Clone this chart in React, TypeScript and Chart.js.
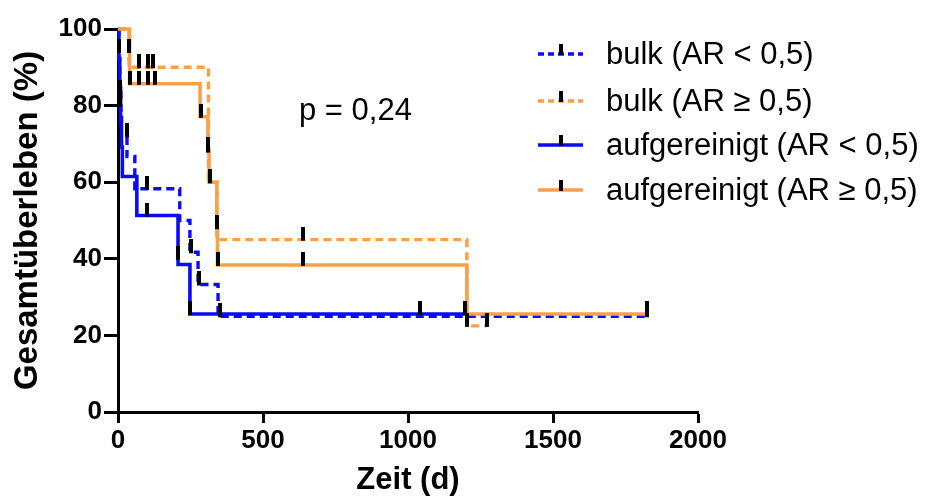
import React, { useEffect, useRef } from "react";
import { Chart, registerables } from "chart.js";

Chart.register(...registerables);

// ---------- data ----------
const xTickValues = [0, 500, 1000, 1500, 2000];
const yTickValues = [0, 20, 40, 60, 80, 100];

const seriesLabels = [
  "bulk (AR < 0,5)",
  "bulk (AR \u2265 0,5)",
  "aufgereinigt (AR < 0,5)",
  "aufgereinigt (AR \u2265 0,5)",
];

// bulk (AR < 0,5)
const bulkLowTimes = [0, 3, 6, 10, 31, 58, 213, 248, 276, 345, 1824];
const bulkLowSurvival = [100, 91.7, 83.3, 75, 66.7, 58.3, 50, 41.7, 33.3, 25, 25];
const bulkLowCensorTimes = [8, 31, 100, 252, 279, 350, 1824];
const bulkLowCensorSurvival = [83.3, 72, 58.3, 41.7, 33.3, 25, 25];

// bulk (AR >= 0,5)
const bulkHighTimes = [0, 38, 312, 341, 1203, 1272];
const bulkHighSurvival = [100, 90, 60, 45, 22.5, 22.5];
const bulkHighCensorTimes = [38, 72, 103, 121, 312, 638, 1205, 1272];
const bulkHighCensorSurvival = [94, 90, 90, 90, 68, 45, 22.5, 22.5];

// aufgereinigt (AR < 0,5)
const pureLowTimes = [0, 3, 6, 9, 12, 15, 65, 207, 248, 1197];
const pureLowSurvival = [100, 92.3, 84.6, 76.9, 69.2, 61.5, 51.3, 38.5, 25.6, 25.6];
const pureLowCensorTimes = [2, 7, 100, 207, 248, 1041, 1197];
const pureLowCensorSurvival = [94, 80, 51.3, 40, 25.6, 25.6, 25.6];

// aufgereinigt (AR >= 0,5)
const pureHighTimes = [0, 40, 283, 310, 314, 341, 343, 1203, 1824];
const pureHighSurvival = [100, 85.7, 77.1, 68.5, 60, 48, 38.4, 25.6, 25.6];
const pureHighCensorTimes = [41, 72, 103, 128, 285, 310, 316, 341, 345, 638, 1824];
const pureHighCensorSurvival = [85.7, 85.7, 85.7, 85.7, 77.1, 68.5, 60, 48, 38.4, 38.4, 25.6];

const pValueText = "p = 0,24";

// ---------- styles ----------
const BLUE = "#0B0BF4";
const ORANGE = "#F7A14A";
const FONT = "'Liberation Sans', Arial, Helvetica, sans-serif";

function toPoints(xs: number[], ys: number[]) {
  return xs.map((x, i) => ({ x, y: ys[i] }));
}

function makeCensorMark(): HTMLCanvasElement {
  const c = document.createElement("canvas");
  c.width = 4;
  c.height = 26;
  const g = c.getContext("2d")!;
  g.fillStyle = "#000";
  g.fillRect(0, 0, 4, 14);
  return c;
}

export default function App() {
  const canvasRef = useRef<HTMLCanvasElement | null>(null);

  useEffect(() => {
    const canvas = canvasRef.current;
    if (!canvas) return;
    const mark = makeCensorMark();

    const lineSets = [
      { data: toPoints(bulkLowTimes, bulkLowSurvival), color: BLUE, dash: [8, 5] },
      { data: toPoints(bulkHighTimes, bulkHighSurvival), color: ORANGE, dash: [8, 5] },
      { data: toPoints(pureLowTimes, pureLowSurvival), color: BLUE, dash: [] as number[] },
      { data: toPoints(pureHighTimes, pureHighSurvival), color: ORANGE, dash: [] as number[] },
    ];
    const censorSets = [
      toPoints(bulkLowCensorTimes, bulkLowCensorSurvival),
      toPoints(bulkHighCensorTimes, bulkHighCensorSurvival),
      toPoints(pureLowCensorTimes, pureLowCensorSurvival),
      toPoints(pureHighCensorTimes, pureHighCensorSurvival),
    ];

    const datasets: any[] = [];
    censorSets.forEach((d, i) => {
      datasets.push({
        type: "line",
        label: seriesLabels[i] + " censored",
        data: d,
        showLine: false,
        pointStyle: mark,
        pointRadius: 3,
        pointHoverRadius: 3,
        order: 0,
        clip: false,
      });
    });
    // draw order: pure lines above bulk lines
    const lineOrder = [4, 3, 2, 1];
    lineSets.forEach((s, i) => {
      datasets.push({
        type: "line",
        label: seriesLabels[i],
        data: s.data,
        borderColor: s.color,
        backgroundColor: s.color,
        borderWidth: i >= 2 ? 3.6 : 3.4,
        borderDash: s.dash,
        stepped: "before",
        pointRadius: 0,
        pointHoverRadius: 0,
        fill: false,
        order: lineOrder[i],
        clip: false,
      });
    });

    const legendPlugin = {
      id: "kmLegend",
      afterDraw(chart: any) {
        const ctx = chart.ctx as CanvasRenderingContext2D;
        ctx.save();
        const rows = [54, 101, 145, 190];
        const styles = [
          { color: BLUE, dash: [6, 4] },
          { color: ORANGE, dash: [6, 4] },
          { color: BLUE, dash: [] as number[] },
          { color: ORANGE, dash: [] as number[] },
        ];
        seriesLabels.forEach((label, i) => {
          const y = rows[i];
          ctx.strokeStyle = styles[i].color;
          ctx.lineWidth = 3.5;
          ctx.setLineDash(styles[i].dash);
          ctx.beginPath();
          ctx.moveTo(538, y);
          ctx.lineTo(583, y);
          ctx.stroke();
          ctx.setLineDash([]);
          ctx.fillStyle = "#000";
          ctx.fillRect(559, y - 10, 4, 11);
          ctx.font = `31px ${FONT}`;
          ctx.textBaseline = "middle";
          ctx.textAlign = "left";
          ctx.fillText(label, 606, y + 1);
        });
        ctx.font = `31px ${FONT}`;
        ctx.textBaseline = "alphabetic";
        ctx.fillText(pValueText, 299, 120);
        ctx.restore();
      },
    };

    const chart = new Chart(canvas, {
      type: "line",
      data: { datasets },
      options: {
        animation: false,
        responsive: false,
        maintainAspectRatio: false,
        events: [],
        layout: { padding: { top: 29, right: 235, bottom: 0, left: 0 } },
        plugins: {
          legend: { display: false },
          tooltip: { enabled: false },
        },
        scales: {
          x: {
            type: "linear",
            min: 0,
            max: 2000,
            afterFit: (scale: any) => {
              scale.height = 90;
            },
            afterBuildTicks: (scale: any) => {
              scale.ticks = xTickValues.map((v) => ({ value: v }));
            },
            border: { display: true, color: "#000", width: 3 },
            grid: {
              display: true,
              drawOnChartArea: false,
              drawTicks: true,
              tickLength: 11,
              tickWidth: 3,
              tickColor: "#000",
            },
            ticks: {
              color: "#000",
              padding: 2,
              font: { family: FONT, size: 26, weight: "bold" },
              maxRotation: 0,
              callback: (v: any) => String(v),
            },
            title: {
              display: true,
              text: "Zeit (d)",
              color: "#000",
              font: { family: FONT, size: 31, weight: "bold" },
              padding: { top: 0, bottom: 3 },
            },
          },
          y: {
            type: "linear",
            min: 0,
            max: 100,
            afterFit: (scale: any) => {
              scale.width = 118;
            },
            afterBuildTicks: (scale: any) => {
              scale.ticks = yTickValues.map((v) => ({ value: v }));
            },
            border: { display: true, color: "#000", width: 3 },
            grid: {
              display: true,
              drawOnChartArea: false,
              drawTicks: true,
              tickLength: 14,
              tickWidth: 3,
              tickColor: "#000",
            },
            ticks: {
              color: "#000",
              padding: 2,
              font: { family: FONT, size: 26, weight: "bold" },
              callback: (v: any) => String(v),
            },
            title: {
              display: true,
              text: "Gesamtüberleben (%)",
              color: "#000",
              font: { family: FONT, size: 33, weight: "bold" },
              padding: { top: 8, bottom: 0 },
            },
          },
        },
      },
      plugins: [legendPlugin],
    } as any);

    return () => chart.destroy();
  }, []);

  return (
    <div style={{ position: "fixed", left: 0, top: 0, width: 933, height: 502, background: "#fff" }}>
      <canvas ref={canvasRef} width={933} height={502} style={{ width: 933, height: 502, display: "block" }} />
    </div>
  );
}
